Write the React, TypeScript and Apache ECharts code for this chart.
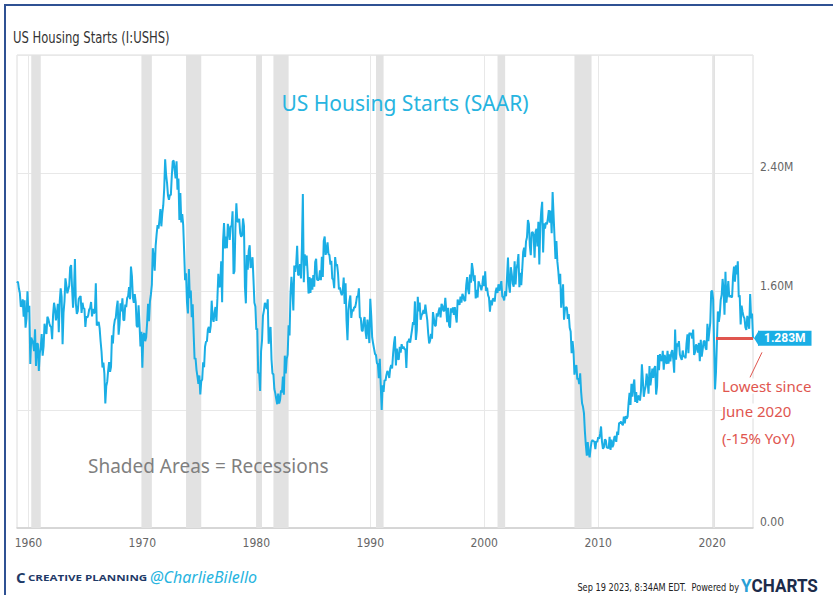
import React, { useEffect, useRef } from "react";
import * as echarts from "echarts";

// Monthly US housing starts, SAAR, thousands of units, starting Jan 1959
const START_YEAR = 1959;
const starts1959 = [1657, 1667, 1620, 1590, 1498, 1503, 1547, 1430, 1540, 1355, 1416, 1601];
const starts1960s = [
  1460, 1503, 1109, 1289, 1271, 1247, 1197, 1344, 1097, 1246, 1246, 1063,
  1183, 1226, 1312, 1166, 1228, 1382, 1335, 1312, 1429, 1415, 1385, 1365,
  1361, 1278, 1443, 1524, 1483, 1404, 1450, 1517, 1324, 1533, 1622, 1564,
  1244, 1456, 1534, 1689, 1641, 1588, 1614, 1639, 1763, 1779, 1622, 1491,
  1603, 1820, 1517, 1448, 1467, 1550, 1562, 1569, 1455, 1524, 1486, 1484,
  1361, 1433, 1423, 1438, 1478, 1488, 1529, 1432, 1482, 1452, 1460, 1656,
  1370, 1378, 1394, 1352, 1265, 1194, 1086, 1119, 1046, 843, 961, 990,
  1067, 1123, 1056, 1091, 1304, 1248, 1364, 1407, 1421, 1491, 1538, 1308,
  1380, 1520, 1466, 1554, 1408, 1405, 1512, 1495, 1556, 1569, 1630, 1548,
  1769, 1705, 1561, 1524, 1583, 1528, 1368, 1358, 1507, 1381, 1229, 1327,
];
const starts1970s = [
  1085, 1305, 1319, 1264, 1290, 1385, 1517, 1399, 1534, 1580, 1647, 1893,
  1828, 1741, 1910, 1986, 2049, 2026, 2083, 2158, 2041, 2128, 2182, 2295,
  2494, 2390, 2334, 2249, 2221, 2254, 2252, 2382, 2481, 2485, 2421, 2366,
  2481, 2289, 2365, 2084, 2266, 2067, 2123, 2051, 1874, 1677, 1724, 1526,
  1451, 1752, 1555, 1607, 1426, 1513, 1316, 1142, 1150, 1070, 1026, 975,
  1032, 904, 993, 1005, 1121, 1087, 1226, 1260, 1264, 1344, 1360, 1321,
  1367, 1538, 1421, 1395, 1459, 1495, 1401, 1550, 1720, 1629, 1641, 1804,
  1527, 1943, 2063, 1892, 1971, 1893, 2058, 2020, 1949, 2042, 2042, 2142,
  1718, 1738, 2032, 2197, 2075, 2070, 2092, 1996, 1970, 1981, 2094, 2044,
  1630, 1520, 1847, 1748, 1876, 1913, 1760, 1778, 1832, 1681, 1524, 1498,
];
const starts1980s = [
  1341, 1350, 1047, 1051, 927, 1196, 1269, 1436, 1471, 1523, 1510, 1482,
  1547, 1246, 1306, 1360, 1140, 1045, 1041, 940, 911, 873, 837, 910,
  843, 866, 931, 917, 1025, 902, 1166, 1046, 1144, 1173, 1372, 1303,
  1586, 1699, 1606, 1472, 1776, 1733, 1785, 1910, 1710, 1715, 1785, 1688,
  1897, 2260, 1663, 1851, 1774, 1843, 1732, 1586, 1698, 1590, 1689, 1612,
  1711, 1632, 1800, 1821, 1680, 1676, 1684, 1743, 1676, 1834, 1698, 1942,
  1972, 1848, 1876, 1933, 1854, 1847, 1782, 1807, 1687, 1681, 1623, 1833,
  1774, 1784, 1726, 1614, 1628, 1594, 1575, 1605, 1695, 1515, 1656, 1400,
  1271, 1473, 1532, 1573, 1421, 1478, 1467, 1493, 1492, 1522, 1569, 1563,
  1621, 1425, 1422, 1339, 1331, 1397, 1427, 1332, 1279, 1410, 1351, 1251,
];
const starts1990s = [
  1551, 1437, 1289, 1248, 1212, 1177, 1171, 1115, 1110, 1014, 1145, 969,
  798, 965, 921, 1001, 996, 1036, 1063, 1049, 1015, 1079, 1103, 1079,
  1176, 1250, 1297, 1099, 1214, 1145, 1139, 1226, 1186, 1244, 1214, 1227,
  1210, 1210, 1083, 1258, 1260, 1280, 1254, 1300, 1343, 1392, 1376, 1533,
  1272, 1337, 1564, 1465, 1526, 1409, 1439, 1450, 1474, 1450, 1511, 1455,
  1407, 1316, 1249, 1267, 1314, 1281, 1461, 1416, 1369, 1369, 1452, 1431,
  1467, 1491, 1424, 1516, 1504, 1467, 1472, 1557, 1475, 1392, 1489, 1370,
  1355, 1486, 1457, 1492, 1442, 1494, 1437, 1390, 1546, 1520, 1510, 1566,
  1525, 1584, 1567, 1540, 1536, 1641, 1698, 1614, 1582, 1715, 1660, 1792,
  1748, 1670, 1710, 1553, 1611, 1559, 1669, 1648, 1635, 1608, 1648, 1708,
];
const starts2000s = [
  1636, 1737, 1604, 1626, 1575, 1559, 1463, 1541, 1507, 1549, 1551, 1532,
  1600, 1625, 1590, 1649, 1605, 1636, 1670, 1567, 1562, 1540, 1602, 1568,
  1698, 1829, 1642, 1592, 1764, 1717, 1655, 1633, 1804, 1648, 1753, 1788,
  1853, 1629, 1726, 1643, 1751, 1867, 1897, 1833, 1939, 1967, 2083, 2057,
  1911, 1846, 1998, 2003, 1981, 1828, 2002, 2024, 1905, 2072, 1782, 2042,
  2144, 2207, 1864, 2061, 2025, 2068, 2054, 2095, 2151, 2065, 2147, 1994,
  2273, 2119, 1969, 1821, 1942, 1802, 1737, 1650, 1720, 1491, 1570, 1649,
  1409, 1480, 1495, 1490, 1415, 1448, 1354, 1330, 1183, 1264, 1197, 1037,
  1084, 1103, 1005, 1013, 973, 1046, 923, 844, 820, 777, 652, 560,
  490, 582, 505, 478, 540, 585, 594, 586, 585, 534, 588, 581,
];
const starts2010s = [
  614, 604, 636, 687, 583, 536, 546, 599, 594, 543, 545, 539,
  617, 528, 598, 548, 563, 616, 621, 583, 653, 630, 711, 709,
  720, 704, 695, 753, 708, 757, 741, 754, 847, 915, 833, 976,
  888, 962, 1005, 853, 919, 846, 894, 889, 862, 925, 1108, 1004,
  888, 931, 961, 1044, 994, 908, 1095, 964, 1019, 1078, 1015, 1080,
  1095, 903, 960, 1170, 1068, 1176, 1137, 1131, 1198, 1071, 1171, 1139,
  1110, 1198, 1112, 1174, 1127, 1187, 1204, 1143, 1051, 1343, 1138, 1250,
  1229, 1264, 1174, 1152, 1137, 1201, 1158, 1164, 1148, 1249, 1310, 1183,
  1321, 1306, 1319, 1281, 1343, 1171, 1189, 1242, 1229, 1187, 1252, 1128,
  1273, 1159, 1206, 1262, 1267, 1219, 1206, 1381, 1264, 1326, 1389, 1599,
];
const starts2020s = [
  1606, 1548, 1260, 938, 1053, 1259, 1465, 1394, 1441, 1543, 1576, 1685,
  1612, 1443, 1733, 1525, 1592, 1670, 1562, 1573, 1562, 1563, 1703, 1769,
  1666, 1777, 1716, 1805, 1562, 1574, 1377, 1505, 1463, 1432, 1419, 1357,
  1340, 1436, 1380, 1348, 1583, 1418, 1451, 1283,
];

// NBER recessions as [start, end] in decimal years
const recessions: [number, number][] = [
  [1960 + 3 / 12, 1961 + 1 / 12],
  [1969 + 11 / 12, 1970 + 10 / 12],
  [1973 + 10 / 12, 1975 + 2 / 12],
  [1980 + 0 / 12, 1980 + 6 / 12],
  [1981 + 6 / 12, 1982 + 10 / 12],
  [1990 + 6 / 12, 1991 + 2 / 12],
  [2001 + 2 / 12, 2001 + 10 / 12],
  [2007 + 11 / 12, 2009 + 5 / 12],
  [2020 + 1 / 12, 2020 + 3 / 12],
];

const decadeTicks = [1960, 1970, 1980, 1990, 2000, 2010, 2020];
const shownYLabels = [0, 1.6, 2.4];
const lowestSince = 2020 + 4 / 12;

const allStarts = [
  ...starts1959,
  ...starts1960s,
  ...starts1970s,
  ...starts1980s,
  ...starts1990s,
  ...starts2000s,
  ...starts2010s,
  ...starts2020s,
];

const LINE_COLOR = "#1aaee5";
const RED = "#e0564f";
const NARROW = "'Liberation Sans Narrow', 'DejaVu Sans Condensed', 'Roboto', sans-serif";
const HAND = "'Noto Sans', 'Open Sans', sans-serif";

export default function App() {
  const ref = useRef<HTMLDivElement>(null);

  useEffect(() => {
    if (!ref.current) return;
    const chart = echarts.init(ref.current, undefined, { renderer: "svg" });
    const data = allStarts.map((v, i) => [START_YEAR + i / 12, v / 1000]);
    const lastX = data[data.length - 1][0];
    const lastV = data[data.length - 1][1];

    chart.setOption({
      animation: false,
      backgroundColor: "#ffffff",
      grid: {
        left: 17,
        right: 80,
        top: 55,
        bottom: 67,
        show: true,
        borderColor: "#dcdcdc",
        borderWidth: 1,
      },
      xAxis: {
        type: "value",
        min: START_YEAR,
        max: lastX,
        axisLine: { show: true, lineStyle: { color: "#cfcfcf", width: 1.5 } },
        axisTick: { show: false, customValues: decadeTicks },
        axisLabel: {
          customValues: decadeTicks,
          formatter: (v: number) => String(Math.round(v)),
          color: "#666",
          fontSize: 12,
          fontFamily: NARROW,
          margin: 9,
        },
        splitLine: { show: true, lineStyle: { color: "#e8e8e8", width: 1 } },
      },
      yAxis: {
        type: "value",
        position: "right",
        min: 0,
        max: 3.2,
        interval: 0.8,
        axisLine: { show: false },
        axisTick: { show: false },
        axisLabel: {
          color: "#666",
          fontSize: 12,
          fontFamily: NARROW,
          margin: 7,
          verticalAlign: "bottom",
          formatter: (v: number) => {
            if (!shownYLabels.some((s) => Math.abs(s - v) < 1e-6)) return "";
            return v === 0 ? "0.00" : v.toFixed(2) + "M";
          },
        },
        splitLine: { show: true, lineStyle: { color: "#e8e8e8", width: 1 } },
      },
      series: [
        {
          type: "line",
          data,
          showSymbol: false,
          symbol: "none",
          lineStyle: { color: LINE_COLOR, width: 2 },
          z: 3,
          markArea: {
            silent: true,
            itemStyle: { color: "#e2e2e2" },
            data: recessions.map(([a, b]) => [{ xAxis: a }, { xAxis: b }]),
          },
          markLine: {
            silent: true,
            symbol: ["none", "none"],
            lineStyle: { color: RED, width: 3, type: "solid" },
            label: {
              show: true,
              position: "end",
              distance: 5,
              formatter: () => lastV.toFixed(3) + "M",
              color: "#fff",
              fontWeight: "bold",
              fontSize: 12,
              fontFamily: "'Roboto', sans-serif",
              backgroundColor: LINE_COLOR,
              padding: [2, 6, 1, 6],
            },
            data: [
              [
                { coord: [lowestSince, lastV] },
                { coord: [lastX, lastV] },
              ],
            ],
          },
        },
      ],
    });

    const p = chart.convertToPixel({ xAxisIndex: 0, yAxisIndex: 0 }, [lastX, lastV]) as number[];
    const px = p[0];
    const py = p[1];

    chart.setOption({
      graphic: [
        {
          type: "rect",
          shape: { x: 5, y: 5, width: 860, height: 620 },
          style: { fill: "none", stroke: "#2f5193", lineWidth: 2 },
          silent: true,
        },
        {
          type: "text",
          x: 13,
          y: 38,
          scaleX: 0.86,
          style: { text: "US Housing Starts (I:USHS)", fontSize: 15, fill: "#333", fontFamily: NARROW, verticalAlign: "middle" },
        },
        {
          type: "polygon",
          shape: { points: [[px + 1, py], [px + 6, py - 8], [px + 6, py + 8]] },
          style: { fill: LINE_COLOR },
          z: 10,
        },
        {
          type: "line",
          shape: { x1: px + 9, y1: py + 14, x2: px - 3, y2: py + 39 },
          style: { stroke: RED, lineWidth: 1 },
          z: 10,
        },
        {
          type: "text",
          x: 405,
          y: 103,
          style: {
            text: "US Housing Starts (SAAR)",
            fontSize: 21,
            fill: "#27b4e0",
            fontFamily: HAND,
            align: "center",
            verticalAlign: "middle",
          },
          z: 10,
        },
        {
          type: "text",
          x: 88,
          y: 466,
          style: {
            text: "Shaded Areas = Recessions",
            fontSize: 19,
            fill: "#7f7f7f",
            fontFamily: HAND,
            align: "left",
            verticalAlign: "middle",
          },
          z: 10,
        },
        {
          type: "text",
          x: 722,
          y: 386,
          style: { text: "Lowest since", fontSize: 15, fill: RED, fontFamily: HAND, verticalAlign: "middle", backgroundColor: "#fff" },
          z: 10,
        },
        {
          type: "text",
          x: 722,
          y: 411,
          style: { text: "June 2020", fontSize: 15, fill: RED, fontFamily: HAND, verticalAlign: "middle", backgroundColor: "#fff" },
          z: 10,
        },
        {
          type: "text",
          x: 722,
          y: 438,
          style: { text: "(-15% YoY)", fontSize: 15, fill: RED, fontFamily: HAND, verticalAlign: "middle" },
          z: 10,
        },
        {
          type: "text",
          x: 16,
          y: 577,
          style: { text: "C", fontSize: 15, fontWeight: "bold", fill: "#1f3a68", fontFamily: "'Open Sans', sans-serif", verticalAlign: "middle" },
        },
        {
          type: "text",
          x: 28,
          y: 577,
          scaleX: 1.22,
          style: { text: "CREATIVE PLANNING", fontSize: 9.5, fontWeight: "bold", fill: "#1f3a68", fontFamily: "'Open Sans', sans-serif", verticalAlign: "middle" },
        },
        {
          type: "text",
          x: 150,
          y: 577,
          style: { text: "@CharlieBilello", fontSize: 16, fontStyle: "italic", fill: "#27b4e0", fontFamily: HAND, verticalAlign: "middle" },
        },
        {
          type: "text",
          x: 739,
          y: 587,
          scaleX: 0.83,
          style: { text: "Sep 19 2023, 8:34AM EDT.  Powered by", fontSize: 11, fill: "#222", fontFamily: NARROW, align: "right", verticalAlign: "middle" },
        },
        {
          type: "text",
          x: 741,
          y: 585,
          scaleX: 0.9,
          style: {
            text: "{y|Y}{c|CHARTS}",
            verticalAlign: "middle",
            rich: {
              y: { fontSize: 19, fontWeight: "bold", fill: "#2a9fd6", fontFamily: "'Roboto', sans-serif" },
              c: { fontSize: 19, fontWeight: "bold", fill: "#1c2b4a", fontFamily: "'Roboto', sans-serif" },
            },
          },
        },
      ],
    });

    return () => chart.dispose();
  }, []);

  return (
    <div
      ref={ref}
      style={{ position: "fixed", left: 0, top: 0, width: 833, height: 595, background: "#fff" }}
    />
  );
}
